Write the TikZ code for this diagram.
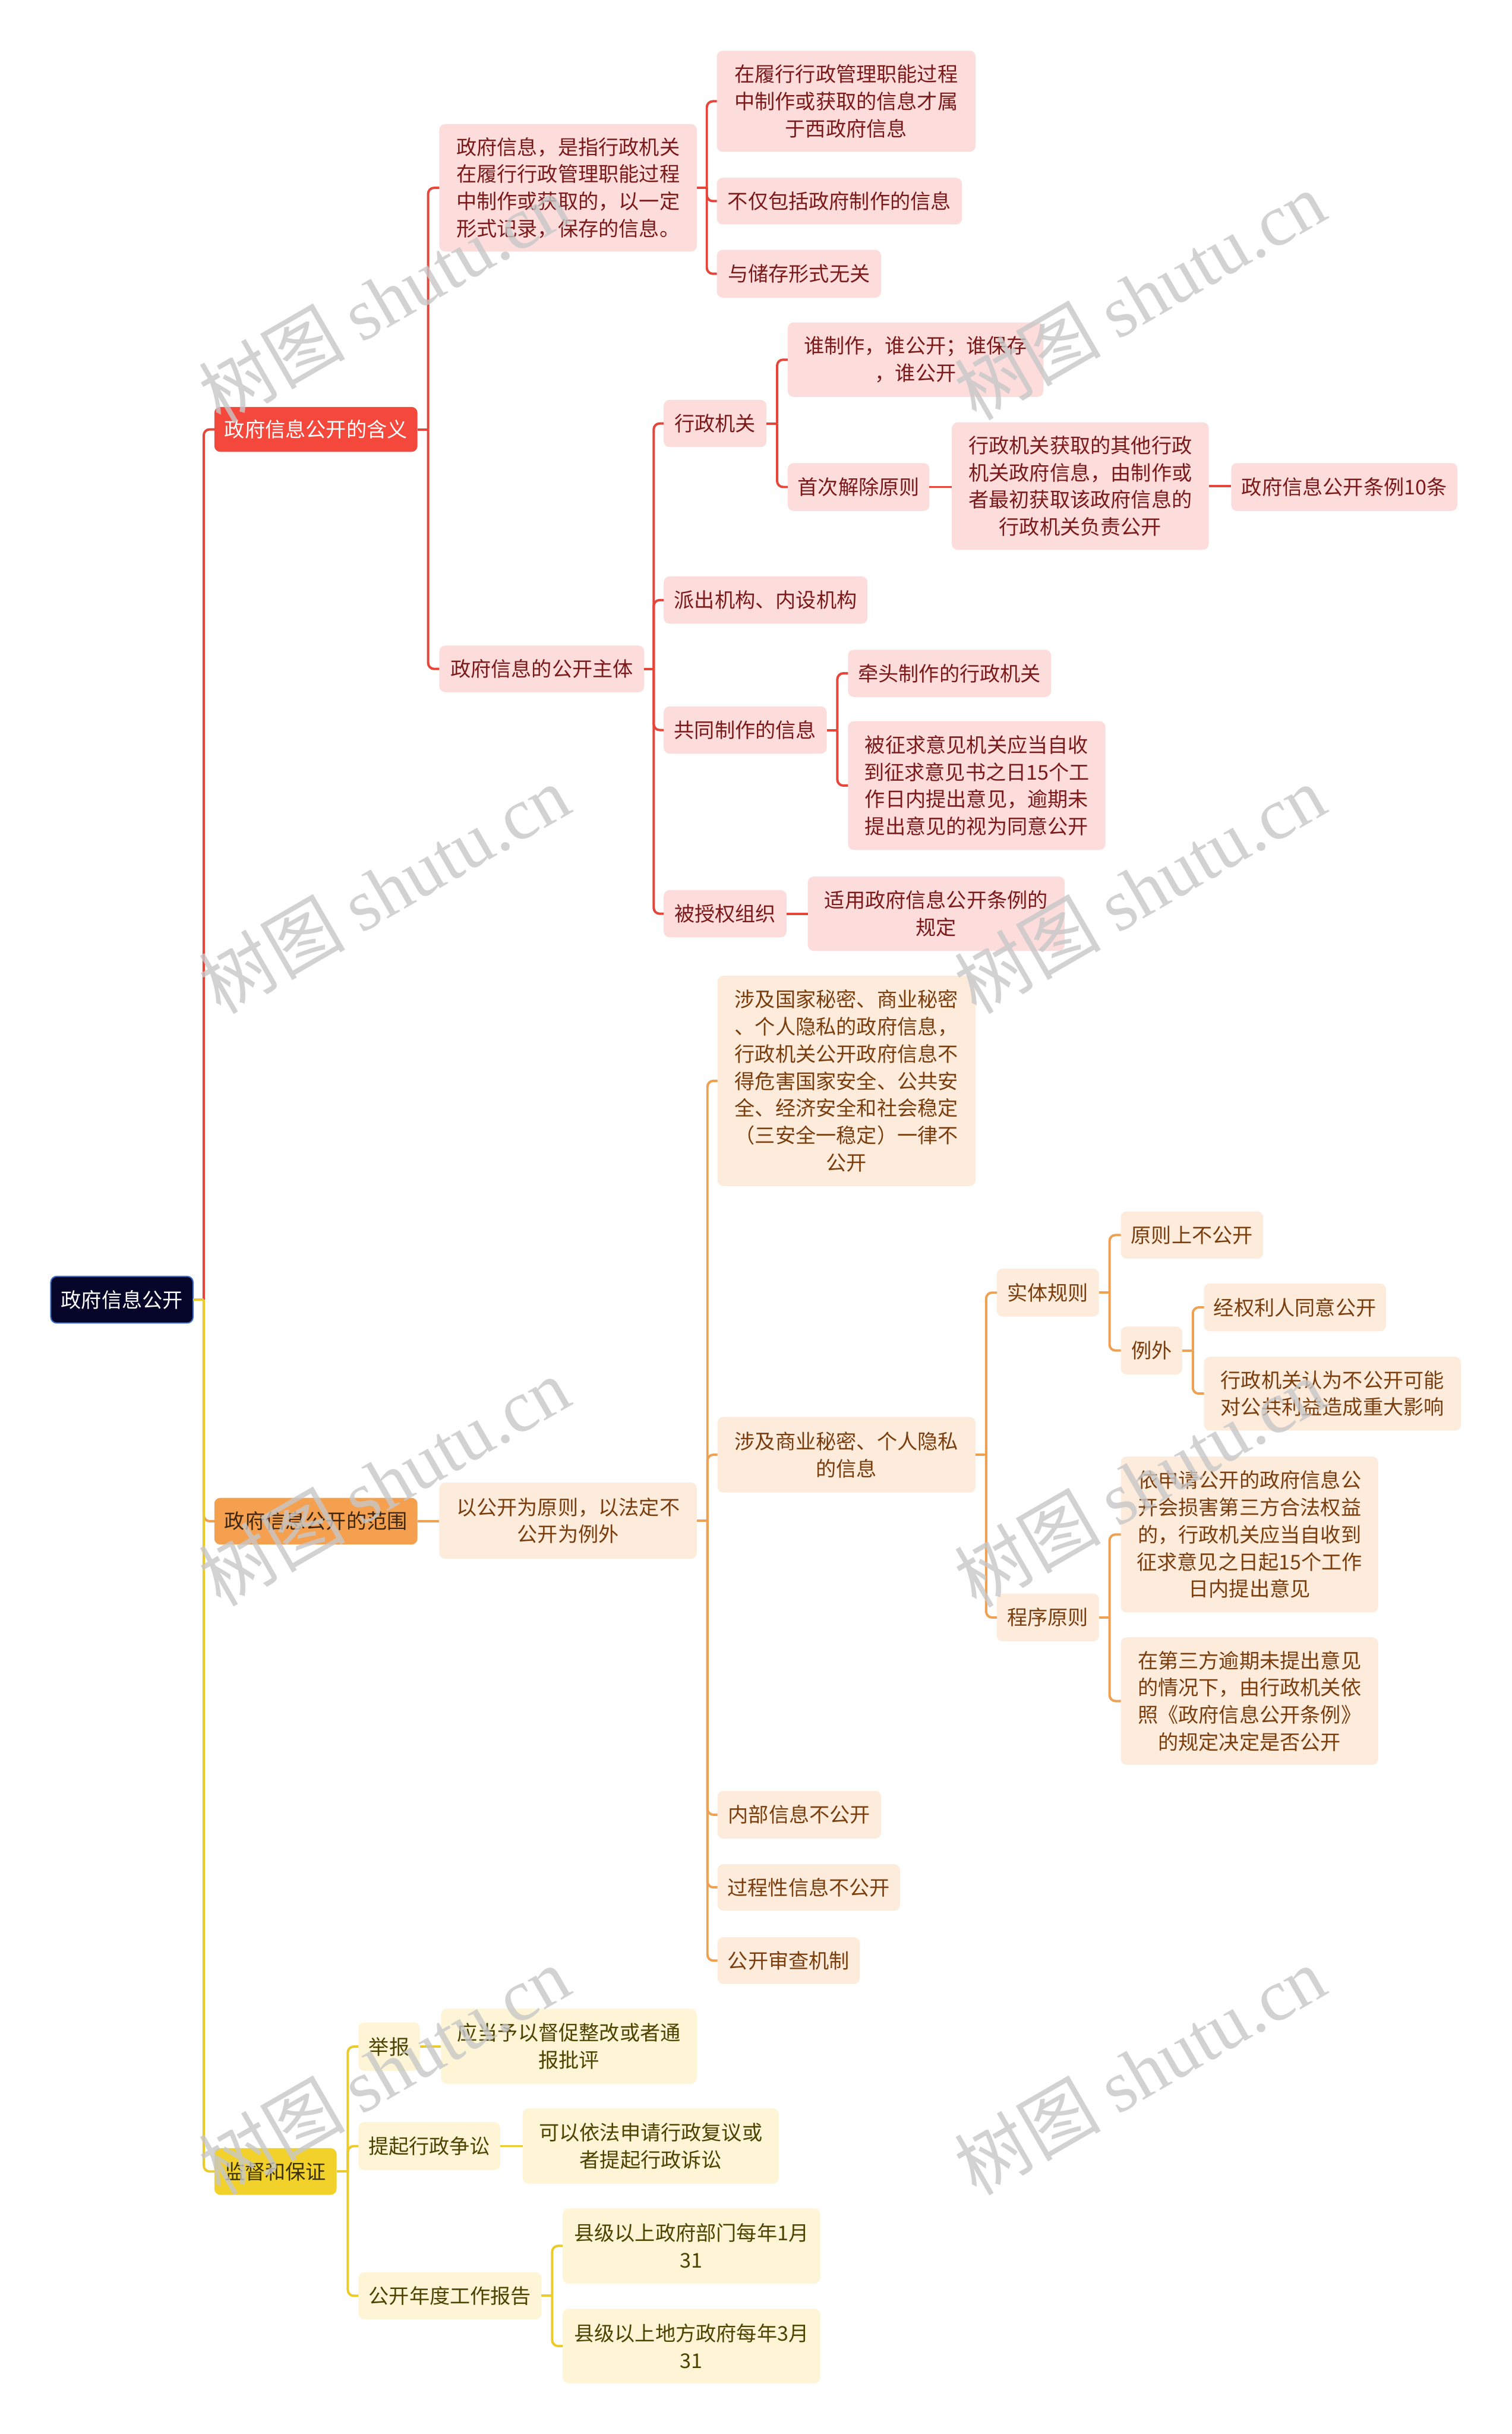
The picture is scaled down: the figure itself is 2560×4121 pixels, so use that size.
\documentclass[tikz,border=0pt]{standalone}
\usepackage{fontspec}
\setmainfont{Noto Sans CJK SC}
\newfontfamily\wmcjk{Noto Sans CJK SC}
\newfontfamily\wmlat{Liberation Serif}
\definecolor{rootfill}{HTML}{05052A}
\definecolor{rootedge}{HTML}{3E6FC9}
\definecolor{redfill}{HTML}{F4483D}
\definecolor{redline}{HTML}{E6463A}
\definecolor{pinkfill}{HTML}{FDDCDC}
\definecolor{redtext}{HTML}{7A1A1A}
\definecolor{orgfill}{HTML}{F4A04F}
\definecolor{orgline}{HTML}{EFA050}
\definecolor{peachfill}{HTML}{FDEBDC}
\definecolor{orgtext}{HTML}{7A3E0E}
\definecolor{orgl1text}{HTML}{3E2612}
\definecolor{yelfill}{HTML}{F2D22A}
\definecolor{yelline}{HTML}{EBCB2B}
\definecolor{creamfill}{HTML}{FDF5D5}
\definecolor{yeltext}{HTML}{4D4200}
\definecolor{yell1text}{HTML}{3D3300}
\tikzset{
  basebox/.style={inner sep=0pt, outer sep=0pt, align=center, rounded corners=2.5pt,
    font=\fontsize{8.6pt}{11.5pt}\selectfont},
  rootbox/.style={basebox, fill=rootfill, draw=rootedge, line width=0.5pt, text=white},
  redtop/.style={basebox, fill=redfill, text=white},
  redkid/.style={basebox, fill=pinkfill, text=redtext},
  orgtop/.style={basebox, fill=orgfill, text=orgl1text},
  orgkid/.style={basebox, fill=peachfill, text=orgtext},
  yeltop/.style={basebox, fill=yelfill, text=yell1text},
  yelkid/.style={basebox, fill=creamfill, text=yeltext},
  rl/.style={draw=redline, line width=1pt},
  ol/.style={draw=orgline, line width=1pt},
  yl/.style={draw=yelline, line width=1pt},
  wmark/.style={inner sep=0pt, text=black!22, text opacity=0.8, rotate=30,
    font=\fontsize{31pt}{31pt}\selectfont}
}
\newcommand\bx[7]{\node[#6, minimum width={(#4-#2)*0.25pt}, minimum height={(#5-#3)*0.25pt}] (#1) at ({(#2+#4)/2},{(#3+#5)/2}) {#7};}
\newcommand\fork[4]{\draw[#1] (#2.east) -- ++(#4,0); \draw[#1, rounded corners=2.5pt] (#2.east) ++(#4,0) |- (#3.west);}
\newcommand\link[3]{\draw[#1] (#2.east) -- (#2.east -| #3.west);}
\begin{document}
\begin{tikzpicture}[x=0.25pt, y=-0.25pt]
\useasboundingbox[fill=white] (0,0) rectangle (2560,4121);
% root
\bx{root}{86}{2161}{327}{2240}{rootbox}{政府信息公开}
% red branch
\bx{h1}{363}{689}{707}{765}{redtop}{政府信息公开的含义}
\bx{d1}{744}{210}{1180}{426}{redkid}{政府信息，是指行政机关\\在履行行政管理职能过程\\中制作或获取的，以一定\\形式记录，保存的信息。}
\bx{d1a}{1214}{86}{1652}{257}{redkid}{在履行行政管理职能过程\\中制作或获取的信息才属\\于西政府信息}
\bx{d1b}{1214}{301}{1629}{380}{redkid}{不仅包括政府制作的信息}
\bx{d1c}{1214}{423}{1492}{504}{redkid}{与储存形式无关}
\bx{s1}{744}{1093}{1091}{1172}{redkid}{政府信息的公开主体}
\bx{s1a}{1124}{677}{1298}{757}{redkid}{行政机关}
\bx{s1aa}{1334}{546}{1767}{672}{redkid}{谁制作，谁公开；谁保存\\，谁公开}
\bx{s1ab}{1334}{784}{1574}{865}{redkid}{首次解除原则}
\bx{s1ab1}{1612}{715}{2047}{931}{redkid}{行政机关获取的其他行政\\机关政府信息，由制作或\\者最初获取该政府信息的\\行政机关负责公开}
\bx{s1ab2}{2085}{784}{2468}{865}{redkid}{政府信息公开条例10条}
\bx{s1b}{1124}{976}{1469}{1056}{redkid}{派出机构、内设机构}
\bx{s1c}{1124}{1196}{1400}{1276}{redkid}{共同制作的信息}
\bx{s1ca}{1436}{1100}{1780}{1180}{redkid}{牵头制作的行政机关}
\bx{s1cb}{1436}{1221}{1872}{1439}{redkid}{被征求意见机关应当自收\\到征求意见书之日15个工\\作日内提出意见，逾期未\\提出意见的视为同意公开}
\bx{s1d}{1124}{1507}{1332}{1587}{redkid}{被授权组织}
\bx{s1da}{1368}{1484}{1803}{1610}{redkid}{适用政府信息公开条例的\\规定}
% orange branch
\bx{h2}{363}{2536}{707}{2615}{orgtop}{政府信息公开的范围}
\bx{r1}{744}{2510}{1180}{2639}{orgkid}{以公开为原则，以法定不\\公开为例外}
\bx{r1a}{1215}{1652}{1652}{2008}{orgkid}{涉及国家秘密、商业秘密\\、个人隐私的政府信息，\\行政机关公开政府信息不\\得危害国家安全、公共安\\全、经济安全和社会稳定\\（三安全一稳定）一律不\\公开}
\bx{r1b}{1215}{2399}{1652}{2527}{orgkid}{涉及商业秘密、个人隐私\\的信息}
\bx{r1b1}{1688}{2148}{1861}{2229}{orgkid}{实体规则}
\bx{r1b1a}{1898}{2051}{2139}{2131}{orgkid}{原则上不公开}
\bx{r1b1b}{1898}{2246}{2002}{2327}{orgkid}{例外}
\bx{r1b1b1}{2039}{2173}{2347}{2254}{orgkid}{经权利人同意公开}
\bx{r1b1b2}{2039}{2297}{2474}{2422}{orgkid}{行政机关认为不公开可能\\对公共利益造成重大影响}
\bx{r1b2}{1688}{2698}{1861}{2779}{orgkid}{程序原则}
\bx{r1b2a}{1898}{2466}{2334}{2730}{orgkid}{依申请公开的政府信息公\\开会损害第三方合法权益\\的，行政机关应当自收到\\征求意见之日起15个工作\\日内提出意见}
\bx{r1b2b}{1898}{2772}{2334}{2988}{orgkid}{在第三方逾期未提出意见\\的情况下，由行政机关依\\照《政府信息公开条例》\\的规定决定是否公开}
\bx{r1c}{1215}{3032}{1492}{3113}{orgkid}{内部信息不公开}
\bx{r1d}{1215}{3156}{1524}{3235}{orgkid}{过程性信息不公开}
\bx{r1e}{1215}{3280}{1456}{3359}{orgkid}{公开审查机制}
% yellow branch
\bx{h3}{363}{3637}{570}{3716}{yeltop}{监督和保证}
\bx{y1}{607}{3424}{711}{3506}{yelkid}{举报}
\bx{y1a}{747}{3401}{1180}{3528}{yelkid}{应当予以督促整改或者通\\报批评}
\bx{y2}{607}{3593}{847}{3674}{yelkid}{提起行政争讼}
\bx{y2a}{885}{3570}{1319}{3697}{yelkid}{可以依法申请行政复议或\\者提起行政诉讼}
\bx{y3}{607}{3847}{917}{3927}{yelkid}{公开年度工作报告}
\bx{y3a}{953}{3739}{1389}{3866}{yelkid}{县级以上政府部门每年1月\\31}
\bx{y3b}{953}{3909}{1389}{4035}{yelkid}{县级以上地方政府每年3月\\31}
% connectors: root
\fork{rl}{root}{h1}{18}
\fork{ol}{root}{h2}{18}
\fork{yl}{root}{h3}{18}
% red
\fork{rl}{h1}{d1}{18}
\fork{rl}{h1}{s1}{18}
\fork{rl}{d1}{d1a}{17}
\fork{rl}{d1}{d1b}{17}
\fork{rl}{d1}{d1c}{17}
\fork{rl}{s1}{s1a}{16}
\fork{rl}{s1}{s1b}{16}
\fork{rl}{s1}{s1c}{16}
\fork{rl}{s1}{s1d}{16}
\fork{rl}{s1a}{s1aa}{18}
\fork{rl}{s1a}{s1ab}{18}
\link{rl}{s1ab}{s1ab1}
\link{rl}{s1ab1}{s1ab2}
\fork{rl}{s1c}{s1ca}{18}
\fork{rl}{s1c}{s1cb}{18}
\link{rl}{s1d}{s1da}
% orange
\link{ol}{h2}{r1}
\fork{ol}{r1}{r1a}{18}
\fork{ol}{r1}{r1b}{18}
\fork{ol}{r1}{r1c}{18}
\fork{ol}{r1}{r1d}{18}
\fork{ol}{r1}{r1e}{18}
\fork{ol}{r1b}{r1b1}{18}
\fork{ol}{r1b}{r1b2}{18}
\fork{ol}{r1b1}{r1b1a}{18}
\fork{ol}{r1b1}{r1b1b}{18}
\fork{ol}{r1b1b}{r1b1b1}{18}
\fork{ol}{r1b1b}{r1b1b2}{18}
\fork{ol}{r1b2}{r1b2a}{18}
\fork{ol}{r1b2}{r1b2b}{18}
% yellow
\fork{yl}{h3}{y1}{19}
\fork{yl}{h3}{y2}{19}
\fork{yl}{h3}{y3}{19}
\link{yl}{y1}{y1a}
\link{yl}{y2}{y2a}
\fork{yl}{y3}{y3a}{18}
\fork{yl}{y3}{y3b}{18}
% watermarks
\node[wmark] (wm1) at (650,505) {{\wmcjk 树图} {\wmlat shutu.cn}};
\node[wmark] (wm2) at (1930,500) {{\wmcjk 树图} {\wmlat shutu.cn}};
\node[wmark] (wm3) at (650,1505) {{\wmcjk 树图} {\wmlat shutu.cn}};
\node[wmark] (wm4) at (1930,1505) {{\wmcjk 树图} {\wmlat shutu.cn}};
\node[wmark] (wm5) at (650,2508) {{\wmcjk 树图} {\wmlat shutu.cn}};
\node[wmark] (wm6) at (1930,2510) {{\wmcjk 树图} {\wmlat shutu.cn}};
\node[wmark] (wm7) at (650,3505) {{\wmcjk 树图} {\wmlat shutu.cn}};
\node[wmark] (wm8) at (1930,3505) {{\wmcjk 树图} {\wmlat shutu.cn}};
\end{tikzpicture}
\end{document}
